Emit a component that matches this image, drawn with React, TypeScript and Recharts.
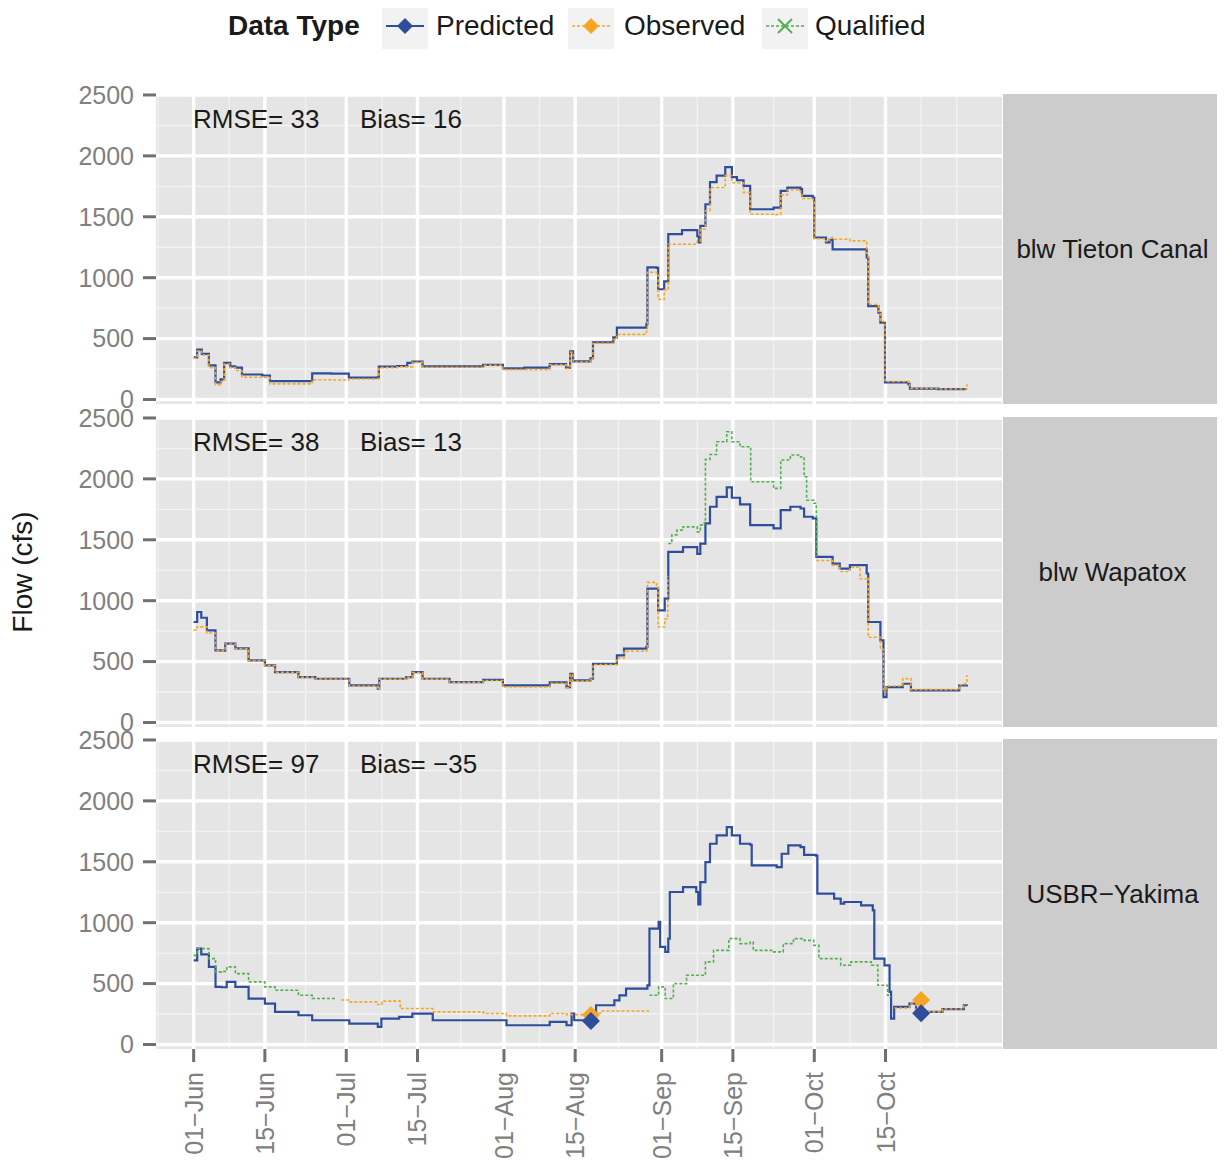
import React from "react";
import { ComposedChart, Line, Scatter, XAxis, YAxis, CartesianGrid } from "recharts";

type Pt = [number, number | null];

// x values are days after 01-Jun
const TICK_DAYS = [0, 14, 30, 44, 61, 75, 92, 106, 122, 136];
const TICK_LABELS = ["01\u2212Jun", "15\u2212Jun", "01\u2212Jul", "15\u2212Jul", "01\u2212Aug", "15\u2212Aug", "01\u2212Sep", "15\u2212Sep", "01\u2212Oct", "15\u2212Oct"];
const MINOR_DAYS = [-7, 7, 22, 37, 52.5, 68, 83.5, 99, 114, 129, 143, 150];
const Y_TICKS = [0, 500, 1000, 1500, 2000, 2500];
const Y_MINOR = [250, 750, 1250, 1750, 2250];

const SITES = ["blw Tieton Canal", "blw Wapatox", "USBR\u2212Yakima"];
const RMSE = ["33", "38", "97"];
const BIAS = ["16", "13", "\u221235"];

const tietonPredicted: Pt[] = [
  [0, 345], [0.7, 410], [1.6, 375], [3, 280], [4.3, 140], [5.3, 165], [6, 300], [7.2, 272], [8.2, 262], [9.5, 205],
  [13.5, 197], [15, 150], [23, 152], [23.3, 214], [27, 212], [30.5, 180], [36.2, 182], [36.4, 270], [40, 275], [42, 300],
  [43, 312], [45, 272], [50, 272], [56.9, 285], [60.8, 255], [65, 262], [70, 290], [73.2, 262], [74, 395], [74.6, 313],
  [78, 340], [78.5, 470], [82.5, 510], [83.2, 590], [89, 620], [89.2, 1085], [91, 1080], [91.3, 905], [92.5, 970], [93.3, 1357],
  [96, 1390], [99, 1340], [99.3, 1290], [99.6, 1425], [100.6, 1603], [101.5, 1784], [102.8, 1838], [104.5, 1907], [105.8, 1825], [106.8, 1800],
  [108.1, 1754], [109.4, 1562], [114, 1575], [115.4, 1713], [116.7, 1740], [119.3, 1727], [119.6, 1672], [121.7, 1658], [122, 1330], [124.3, 1290],
  [125, 1310], [125.6, 1233], [129, 1233], [132.3, 1166], [132.6, 767], [134.6, 712], [135, 630], [135.9, 140], [140.5, 126], [140.8, 90],
  [146.4, 85], [151.8, 82],
];
const tietonObserved: Pt[] = [
  [0, 338], [0.7, 398], [1.6, 365], [3, 262], [4.3, 122], [5.3, 145], [6, 290], [7.2, 262], [8.2, 238], [9.5, 182],
  [13.5, 180], [15, 128], [23, 130], [23.3, 162], [27, 160], [30.5, 168], [36.2, 172], [36.4, 262], [40, 268], [43, 305],
  [45, 265], [56.9, 280], [60.8, 245], [70, 285], [73.2, 255], [74, 388], [74.6, 308], [78, 335], [78.5, 462], [82.5, 492],
  [83.2, 535], [89, 560], [89.2, 1045], [91, 1040], [91.3, 822], [92.5, 900], [93.3, 1275], [99, 1300], [99.6, 1400], [100.6, 1550],
  [101.5, 1740], [104.5, 1838], [105.8, 1780], [108.1, 1700], [109.4, 1521], [114, 1518], [115.4, 1680], [116.7, 1720], [119.3, 1702], [119.6, 1650],
  [121.7, 1640], [122, 1320], [124.3, 1300], [125, 1330], [125.6, 1316], [129, 1302], [132.3, 1200], [132.6, 780], [134.6, 722], [135, 640],
  [135.9, 148], [140.5, 125], [140.8, 92], [146.4, 86], [151.6, 86], [152, 125],
];

const wapatoxPredicted: Pt[] = [
  [0, 825], [0.7, 907], [1.5, 860], [2.6, 757], [4.3, 592], [5.5, 590], [6.2, 647], [8.2, 608], [10.8, 510], [14, 469],
  [16, 414], [20.6, 373], [23.9, 359], [30.6, 304], [36.2, 277], [36.5, 359], [41.8, 373], [43, 414], [45, 359], [50.3, 332],
  [56.9, 350], [60.8, 304], [70, 330], [73.3, 290], [74, 400], [74.5, 345], [78, 359], [78.5, 482], [83.2, 551], [84.6, 606],
  [89, 620], [89.2, 1099], [91, 1100], [91.3, 921], [92.6, 1017], [93.3, 1400], [96.2, 1440], [99, 1385], [99.6, 1469], [100.6, 1634],
  [101.5, 1771], [102.8, 1853], [104.8, 1930], [105.8, 1845], [107.4, 1790], [109.4, 1620], [114, 1593], [115.4, 1743], [117.3, 1771], [119.3, 1757],
  [120, 1689], [121.7, 1675], [122.4, 1360], [125.6, 1305], [127, 1264], [129, 1292], [132.3, 1223], [132.6, 825], [135, 674], [135.6, 208],
  [136.2, 290], [139.4, 318], [141, 263], [147.9, 263], [150.5, 304], [152, 310],
];
const wapatoxObserved: Pt[] = [
  [0, 757], [0.7, 785], [2.6, 735], [4.3, 590], [5.5, 588], [6.2, 645], [8.2, 606], [10.8, 508], [14, 467], [16, 412],
  [20.6, 371], [23.9, 357], [30.6, 300], [36.2, 272], [36.5, 356], [41.8, 370], [43, 410], [45, 356], [50.3, 330], [56.9, 345],
  [60.8, 292], [70, 322], [73.3, 285], [74, 395], [74.5, 340], [78, 355], [78.5, 475], [83.2, 530], [84.6, 585], [89, 595],
  [89.2, 1150], [91, 1120], [91.3, 784], [92.6, 850], [93.2, 1200], [108, null], [122.4, 1330], [125.6, 1290], [127, 1240], [129, 1275],
  [131, 1180], [132.3, 1190], [132.6, 700], [135, 600], [135.6, 250], [136.2, 300], [139.4, 360], [141, 270], [147.9, 270], [150.5, 310],
  [151.6, 320], [152, 390],
];
const wapatoxQualified: Pt[] = [
  [93.3, 1469], [94, 1540], [95, 1579], [96.2, 1606], [99, 1565], [99.6, 1620], [100.4, 1650], [100.6, 2160], [101.5, 2200], [102.8, 2305],
  [104.8, 2387], [105.8, 2305], [107.4, 2264], [109.3, 2250], [109.5, 1976], [114, 1922], [115.4, 2155], [117.3, 2196], [119.3, 2180], [120, 2017],
  [120.5, 1825], [121.9, 1800], [122.4, 1360],
];

const yakimaPredicted: Pt[] = [
  [0, 691], [0.7, 787], [1.5, 740], [3, 637], [4.3, 473], [5.5, 470], [6.5, 514], [8.2, 473], [10.8, 377], [14, 336],
  [16, 268], [20.6, 240], [23.3, 199], [29.2, 199], [30.6, 172], [36.2, 145], [36.9, 213], [40.4, 226], [43, 254], [47, 199],
  [57, 199], [61.5, 158], [70, 186], [73.3, 158], [74.3, 254], [74.8, 199], [78, 199], [79.1, 322], [82.7, 363], [83.7, 404],
  [85, 459], [89.2, 486], [89.6, 951], [91.4, 1006], [91.7, 801], [92.7, 760], [93.3, 869], [93.6, 1252], [96.2, 1292], [98.8, 1252],
  [99.2, 1150], [99.6, 1333], [100.6, 1497], [101.5, 1648], [102.8, 1716], [104.8, 1784], [105.8, 1716], [107.4, 1648], [109.4, 1640], [109.7, 1470],
  [114.6, 1456], [115.6, 1566], [116.9, 1634], [119.3, 1620], [120, 1557], [122.3, 1550], [122.6, 1238], [125.9, 1197], [127.2, 1156], [127.9, 1170],
  [131.2, 1142], [133.5, 1101], [133.8, 705], [135.8, 650], [136.8, 432], [137.1, 213], [137.7, 309], [140.7, 336], [142, 268], [147.2, 290],
  [151.4, 322], [152, 320],
];
const yakimaObserved: Pt[] = [
  [29, 365], [30.6, 350], [36.2, 328], [37, 356], [40.4, 355], [40.6, 295], [47, 268], [57, 254], [61.5, 235], [70, 254],
  [73.3, 245], [78, 258], [80, 275], [89.4, 282], [110, null], [137.7, 300], [140.7, 332], [142, 268], [147.2, 292], [151.4, 324],
];
const yakimaQualified: Pt[] = [
  [0, 732], [0.7, 787], [3, 705], [4.3, 596], [5.5, 600], [6.5, 637], [8.2, 582], [10.8, 514], [14, 473], [16, 445],
  [20.6, 404], [23.3, 377], [28, 372], [50, null], [89.6, 404], [91.4, 473], [92.7, 377], [94.3, 500], [96.9, 568], [99.6, 568],
  [100.6, 678], [102.2, 773], [105.2, 869], [107.4, 828], [109.4, 841], [110, 773], [114, 760], [115.9, 828], [117.9, 869], [120, 855],
  [121.9, 814], [122.9, 705], [127.2, 650], [129.2, 678], [133.2, 650], [134.5, 486], [136.4, 404], [137, 390],
];
const yakimaPredictedPts: Pt[] = [[78.1, 193], [143, 256]];
const yakimaObservedPts: Pt[] = [[78.1, 242], [143, 365]];

const FONT = '"Liberation Sans", Arial, Helvetica, sans-serif';
const BLUE = "#2e4d9c";
const ORANGE = "#f6a524";
const GREEN = "#52b04f";
const X_DOMAIN = [-7.4, 158.9];
const Y_DOMAIN = [-37, 2508];
const PANEL_TOPS = [94, 417, 739];
const PANEL_H = 310;

const toPts = (s: Pt[]) => s.map(([day, v]) => ({ day, v }));

const panels = [
  { pred: tietonPredicted, obs: tietonObserved, qual: [] as Pt[], predPts: [] as Pt[], obsPts: [] as Pt[] },
  { pred: wapatoxPredicted, obs: wapatoxObserved, qual: wapatoxQualified, predPts: [] as Pt[], obsPts: [] as Pt[] },
  { pred: yakimaPredicted, obs: yakimaObserved, qual: yakimaQualified, predPts: yakimaPredictedPts, obsPts: yakimaObservedPts },
];

/* eslint-disable @typescript-eslint/no-explicit-any */
function XTick(props: any) {
  const { x, y, payload } = props;
  const i = TICK_DAYS.indexOf(payload.value);
  return (
    <text x={x} y={y} transform={`rotate(-90 ${x} ${y})`} textAnchor="end" dy="0.36em" fill="#808080" fontSize={25} fontFamily={FONT}>
      {TICK_LABELS[i]}
    </text>
  );
}

function diamond(fill: string) {
  return (p: any) => {
    const { cx, cy } = p;
    const r = 9;
    return <polygon points={`${cx},${cy - r} ${cx + r},${cy} ${cx},${cy + r} ${cx - r},${cy}`} fill={fill} />;
  };
}
/* eslint-enable @typescript-eslint/no-explicit-any */

function Panel({ idx }: { idx: number }) {
  const p = panels[idx];
  const showX = idx === 2;
  const top = PANEL_TOPS[idx];
  return (
    <>
      <div style={{ position: "absolute", left: 0, top }}>
        <ComposedChart width={1002} height={showX ? PANEL_H + 118 : PANEL_H} margin={{ top: 0, right: 0, bottom: 0, left: 0 }}>
          <CartesianGrid fill="#e5e5e5" stroke="#f2f2f2" strokeWidth={1.4} horizontalValues={Y_MINOR} verticalValues={MINOR_DAYS} />
          <CartesianGrid stroke="#ffffff" strokeWidth={3.4} horizontalValues={Y_TICKS} verticalValues={TICK_DAYS} />
          <XAxis
            type="number" dataKey="day" domain={X_DOMAIN} ticks={TICK_DAYS} allowDataOverflow interval={0}
            hide={!showX} height={118} tickSize={13} tickMargin={10} axisLine={false}
            tickLine={{ stroke: "#707070", strokeWidth: 3 }} tick={<XTick />}
          />
          <YAxis
            type="number" dataKey="v" domain={Y_DOMAIN} ticks={Y_TICKS} allowDataOverflow interval={0}
            width={156} tickSize={13} tickMargin={9} axisLine={false}
            tickLine={{ stroke: "#707070", strokeWidth: 3 }}
            tick={{ fill: "#808080", fontSize: 25, fontFamily: FONT }}
          />
          <Line data={toPts(p.pred)} dataKey="v" type="stepAfter" stroke={BLUE} strokeWidth={2.2} dot={false} isAnimationActive={false} />
          <Line data={toPts(p.obs)} dataKey="v" type="stepAfter" stroke={ORANGE} strokeWidth={1.6} strokeDasharray="3 2" dot={false} isAnimationActive={false} />
          {p.qual.length > 0 && (
            <Line data={toPts(p.qual)} dataKey="v" type="stepAfter" stroke={GREEN} strokeWidth={1.6} strokeDasharray="3 2" dot={false} isAnimationActive={false} />
          )}
          {p.obsPts.length > 0 && <Scatter data={toPts(p.obsPts)} dataKey="v" shape={diamond(ORANGE)} isAnimationActive={false} />}
          {p.predPts.length > 0 && <Scatter data={toPts(p.predPts)} dataKey="v" shape={diamond(BLUE)} isAnimationActive={false} />}
        </ComposedChart>
      </div>
      <div style={{ position: "absolute", left: 193, top: top + 12, fontSize: 26, lineHeight: 1, color: "#1a1a1a", whiteSpace: "nowrap" }}>
        RMSE= {RMSE[idx]}
      </div>
      <div style={{ position: "absolute", left: 360, top: top + 12, fontSize: 26, lineHeight: 1, color: "#1a1a1a", whiteSpace: "nowrap" }}>
        Bias= {BIAS[idx]}
      </div>
      <div
        style={{
          position: "absolute", left: 1003, top, width: 219, height: PANEL_H, background: "#cccccc",
          display: "flex", alignItems: "center", justifyContent: "center", fontSize: 26, color: "#1a1a1a",
        }}
      >
        {SITES[idx]}
      </div>
    </>
  );
}

function LegendKey({ color, dashed, mark }: { color: string; dashed?: boolean; mark: "diamond" | "cross" }) {
  return (
    <svg width={46} height={46} style={{ display: "block" }}>
      <rect width={46} height={46} fill="#f2f2f2" />
      <line x1={4} y1={23} x2={42} y2={23} stroke={color} strokeWidth={dashed ? 1.6 : 2.2} strokeDasharray={dashed ? "3 2" : undefined} />
      {mark === "diamond" ? (
        <polygon points="23,15 31,23 23,31 15,23" fill={color} />
      ) : (
        <g stroke={color} strokeWidth={2}>
          <line x1={16} y1={16} x2={30} y2={30} />
          <line x1={30} y1={16} x2={16} y2={30} />
        </g>
      )}
    </svg>
  );
}

export default function App() {
  const legendText = { position: "absolute" as const, top: 12, fontSize: 28, lineHeight: 1, color: "#1a1a1a", whiteSpace: "nowrap" as const };
  return (
    <div style={{ position: "relative", width: 1225, height: 1169, margin: "-8px 0 0 -8px", background: "#ffffff", fontFamily: FONT }}>
      <style>{".recharts-surface{overflow:visible}"}</style>
      <div style={{ ...legendText, left: 228, fontWeight: "bold" }}>Data Type</div>
      <div style={{ position: "absolute", left: 382, top: 3 }}><LegendKey color={BLUE} mark="diamond" /></div>
      <div style={{ ...legendText, left: 436 }}>Predicted</div>
      <div style={{ position: "absolute", left: 568, top: 3 }}><LegendKey color={ORANGE} dashed mark="diamond" /></div>
      <div style={{ ...legendText, left: 624 }}>Observed</div>
      <div style={{ position: "absolute", left: 762, top: 3 }}><LegendKey color={GREEN} dashed mark="cross" /></div>
      <div style={{ ...legendText, left: 815 }}>Qualified</div>

      <div
        style={{
          position: "absolute", left: 23, top: 572, transform: "translate(-50%, -50%) rotate(-90deg)",
          fontSize: 28, lineHeight: 1, color: "#1a1a1a", whiteSpace: "nowrap",
        }}
      >
        Flow (cfs)
      </div>

      <Panel idx={0} />
      <Panel idx={1} />
      <Panel idx={2} />
    </div>
  );
}
